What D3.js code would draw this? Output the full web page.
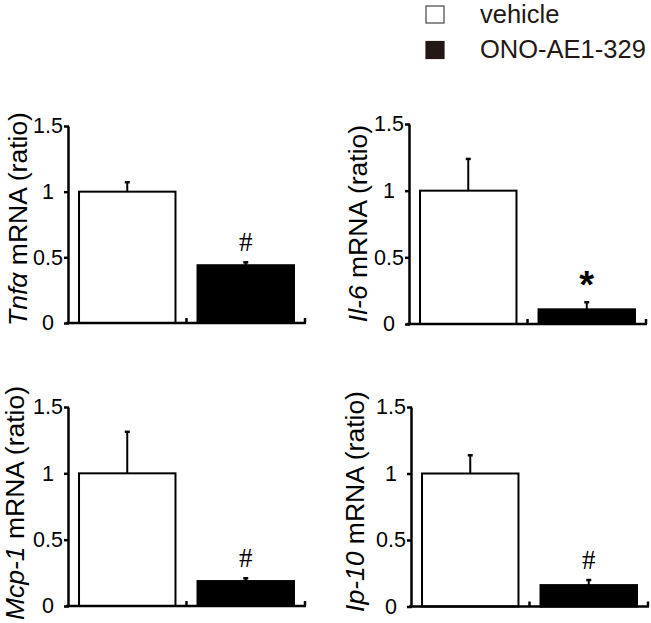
<!DOCTYPE html>
<html>
<head>
<meta charset="utf-8">
<script src="https://cdn.jsdelivr.net/npm/d3@7"></script>
<style>
  html, body { margin: 0; padding: 0; background: #fff; }
  svg { display: block; font-family: "Liberation Sans", Arial, sans-serif; }
</style>
</head>
<body>
<svg id="chart" width="651" height="623"></svg>
<script>
// ---------- data ----------
const genes = ["Tnfα", "Il-6", "Mcp-1", "Ip-10"];
const groups = ["vehicle", "ONO-AE1-329"];
const vehicleMean = [1.0, 1.0, 1.0, 1.0];
const vehicleErr  = [0.072, 0.238, 0.313, 0.137];
const onoMean     = [0.44, 0.11, 0.188, 0.161];
const onoErr      = [0.022, 0.053, 0.021, 0.038];
const sigMarks    = ["#", "*", "#", "#"];
const yTicks      = [0, 0.5, 1, 1.5];
const yTickLabels = ["0", "0.5", "1", "1.5"];

// ---------- layout (positions only) ----------
const panels = [
  { ax: 68,  top: 126, bottom: 323,   titleX: 27,  titleY: 219 },
  { ax: 409, top: 124, bottom: 324,   titleX: 367, titleY: 223.5 },
  { ax: 68,  top: 407, bottom: 606,   titleX: 24,  titleY: 503 },
  { ax: 411, top: 407, bottom: 606.5, titleX: 364, titleY: 501.5 }
];
const axisLen = 237;
const ink = "#000";

const svg = d3.select("#chart");

genes.forEach((gene, i) => {
  const p = panels[i];
  const g = svg.append("g").attr("transform", `translate(${p.ax},0)`);

  const y = d3.scaleLinear().domain([0, 1.5]).range([p.bottom, p.top]);
  const x = d3.scaleBand().domain(groups).range([0, axisLen])
    .paddingInner(0.186).paddingOuter(0.093);

  const rows = [
    { grp: groups[0], mean: vehicleMean[i], err: vehicleErr[i] },
    { grp: groups[1], mean: onoMean[i], err: onoErr[i] }
  ];

  // bars
  g.selectAll("rect.bar").data(rows).join("rect")
    .attr("class", "bar")
    .attr("x", d => x(d.grp))
    .attr("width", x.bandwidth())
    .attr("y", d => y(d.mean))
    .attr("height", d => y(0) - y(d.mean))
    .attr("fill", (d, j) => j === 0 ? "#fff" : ink)
    .attr("stroke", ink)
    .attr("stroke-width", 2);

  // error bars (upper only)
  g.selectAll("line.err").data(rows).join("line")
    .attr("class", "err")
    .attr("x1", d => x(d.grp) + x.bandwidth() / 2)
    .attr("x2", d => x(d.grp) + x.bandwidth() / 2)
    .attr("y1", d => y(d.mean))
    .attr("y2", d => y(d.mean + d.err))
    .attr("stroke", ink).attr("stroke-width", 2);
  g.selectAll("line.cap").data(rows).join("line")
    .attr("class", "cap")
    .attr("x1", d => x(d.grp) + x.bandwidth() / 2 - 2.5)
    .attr("x2", d => x(d.grp) + x.bandwidth() / 2 + 2.5)
    .attr("y1", d => y(d.mean + d.err))
    .attr("y2", d => y(d.mean + d.err))
    .attr("stroke", ink).attr("stroke-width", 2.5);

  // y axis
  const yAxis = d3.axisLeft(y).tickValues(yTicks)
    .tickFormat((d, k) => yTickLabels[k]).tickSize(4).tickSizeOuter(0);
  const ya = g.append("g").call(yAxis);
  ya.select(".domain").attr("stroke", ink).attr("stroke-width", 2.5);
  ya.selectAll(".tick line").attr("stroke", ink).attr("stroke-width", 2.5).attr("x2", -4).attr("x1", 1);
  ya.selectAll(".tick text")
    .attr("x", -20).attr("text-anchor", "middle")
    .attr("font-size", 21.5).attr("font-family", '"Liberation Sans", Arial, sans-serif')
    .attr("fill", ink);

  // x axis baseline
  const xa = g.append("g").attr("transform", `translate(0,${y(0)})`)
    .call(d3.axisBottom(x).tickSize(0).tickSizeOuter(0).tickFormat(""));
  xa.select(".domain").attr("stroke", ink).attr("stroke-width", 2.5)
    .attr("d", `M-2,0H${axisLen + 1}`);
  xa.selectAll(".tick").remove();
  xa.selectAll("line.xt").data([x(groups[1]) - (x.step() - x.bandwidth()) / 2, axisLen])
    .join("line").attr("class", "xt")
    .attr("x1", d => d).attr("x2", d => d)
    .attr("y1", 0).attr("y2", -5)
    .attr("stroke", ink).attr("stroke-width", 2.5);

  // significance mark
  const r = rows[1];
  const cx = x(r.grp) + x.bandwidth() / 2;
  const top = y(r.mean + r.err);
  if (sigMarks[i] === "#") {
    g.append("text").attr("x", cx).attr("y", top - 11)
      .attr("text-anchor", "middle")
      .attr("font-family", '"Liberation Serif", "Times New Roman", serif')
      .attr("font-size", 27).attr("fill", ink).text(sigMarks[i]);
  } else {
    g.append("text").attr("x", cx).attr("y", top - 4)
      .attr("text-anchor", "middle")
      .attr("font-family", '"Liberation Sans", Arial, sans-serif')
      .attr("font-weight", "bold")
      .attr("font-size", 38).attr("fill", ink).text(sigMarks[i]);
  }

  // y title
  const t = svg.append("text")
    .attr("transform", `translate(${p.titleX},${p.titleY}) rotate(-90)`)
    .attr("text-anchor", "middle")
    .attr("font-size", 26.5).attr("fill", ink);
  t.append("tspan").attr("font-style", "italic").text(gene);
  t.append("tspan").text(" mRNA (ratio)");
});

// ---------- legend ----------
const legend = svg.append("g");
const legendY = [14.5, 50];
groups.forEach((grp, k) => {
  legend.append("rect")
    .attr("x", 426).attr("y", legendY[k] - 8.5)
    .attr("width", 18).attr("height", 17)
    .attr("fill", k === 0 ? "#fff" : "#231815")
    .attr("stroke", k === 0 ? "#444" : "#231815")
    .attr("stroke-width", 1.2);
  legend.append("text")
    .attr("x", 480).attr("y", k === 0 ? 23 : 58)
    .attr("font-size", 25.5).attr("fill", "#231815")
    .text(grp);
});
</script>
</body>
</html>
